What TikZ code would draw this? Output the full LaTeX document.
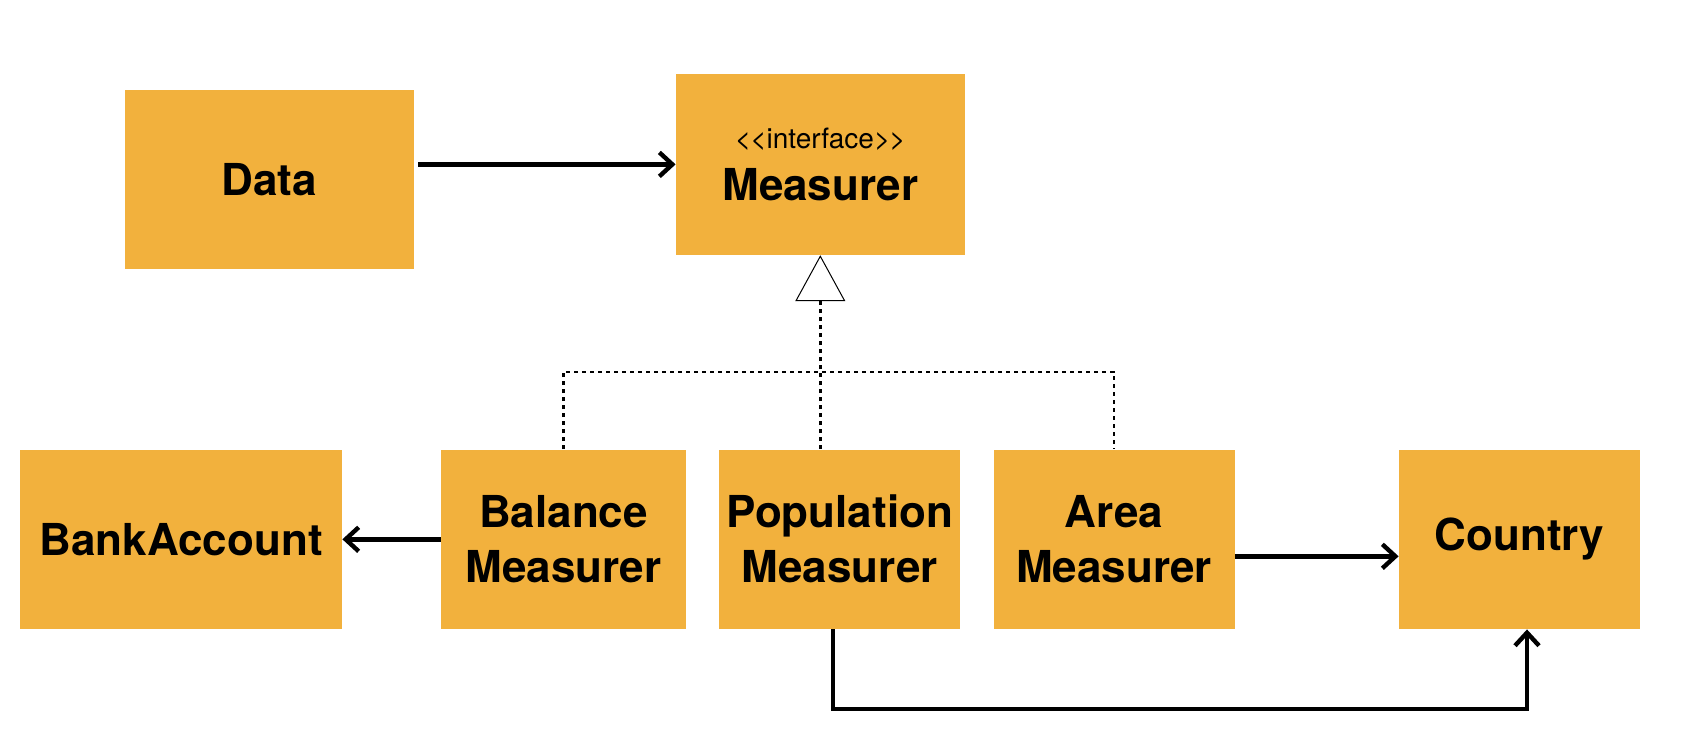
\documentclass[tikz,border=0pt]{standalone}
\usepackage{fontspec}
\setmainfont{TeX Gyre Heros}
\usetikzlibrary{arrows.meta}
\definecolor{boxfill}{HTML}{F2B13D}
\begin{document}
\begin{tikzpicture}[x=0.5pt, y=-0.5pt,
		box/.style={
			rectangle, fill=boxfill, draw=none, inner sep=0pt, minimum height=89.75pt,
			align=center, font=\fontsize{22}{27.5}\selectfont\bfseries
		},
		link/.style={
			line width=2.2pt, -{Straight Barb[length=6.5pt, width=12pt, line width=2.2pt]}
		},
		realize/.style={
			line width=1.3pt, dash pattern=on 2pt off 2pt
		},
	]
	\useasboundingbox (0,0) rectangle (1686,754);
	\node [box, minimum width=144.5pt, minimum height=89.25pt] (data) at (269.4,179.5) {Data};
	\node [box, minimum width=144.3pt, minimum height=90.4pt] (meas) at (820.3,164.4)
		{{\fontsize{14}{14}\selectfont\mdseries <\kern-0.5pt<interface>\kern-0.5pt>}\\[-1.5pt]Measurer};
	\node [box, minimum width=160.8pt] (bank) at (181.2,539.3) {BankAccount};
	\node [box, minimum width=122.5pt] (bal) at (563.5,539.3) {Balance\\Measurer};
	\node [box, minimum width=120.3pt] (pop) at (839.7,539.3) {Population\\Measurer};
	\node [box, minimum width=120.5pt] (area) at (1114,539.3) {Area\\Measurer};
	\node [box, minimum width=120.5pt] (ctry) at (1519.5,539.3) {Country};

	% associations
	\draw[link, shorten <=2pt] (meas.west -| data.east) -- (meas.west);
	\draw[link] (bal.west) -- (bank.east);
	\draw[link] ([yshift=-8.5pt]area.east) -- ([yshift=-8.5pt]ctry.west);
	\draw[link] ([xshift=-3.35pt]pop.south) -- ++(0,79.6) -| ([xshift=3.75pt]ctry.south);

	% realization
	\coordinate (join) at (820.5,372);
	\draw[realize] (bal.north) |- (join) -| (area.north);
	\draw[realize, -{Triangle[open, length=23pt, width=25pt, line width=0.5pt, fill=white]}]
		(pop.north -| meas.south) -- (meas.south);
\end{tikzpicture}
\end{document}
